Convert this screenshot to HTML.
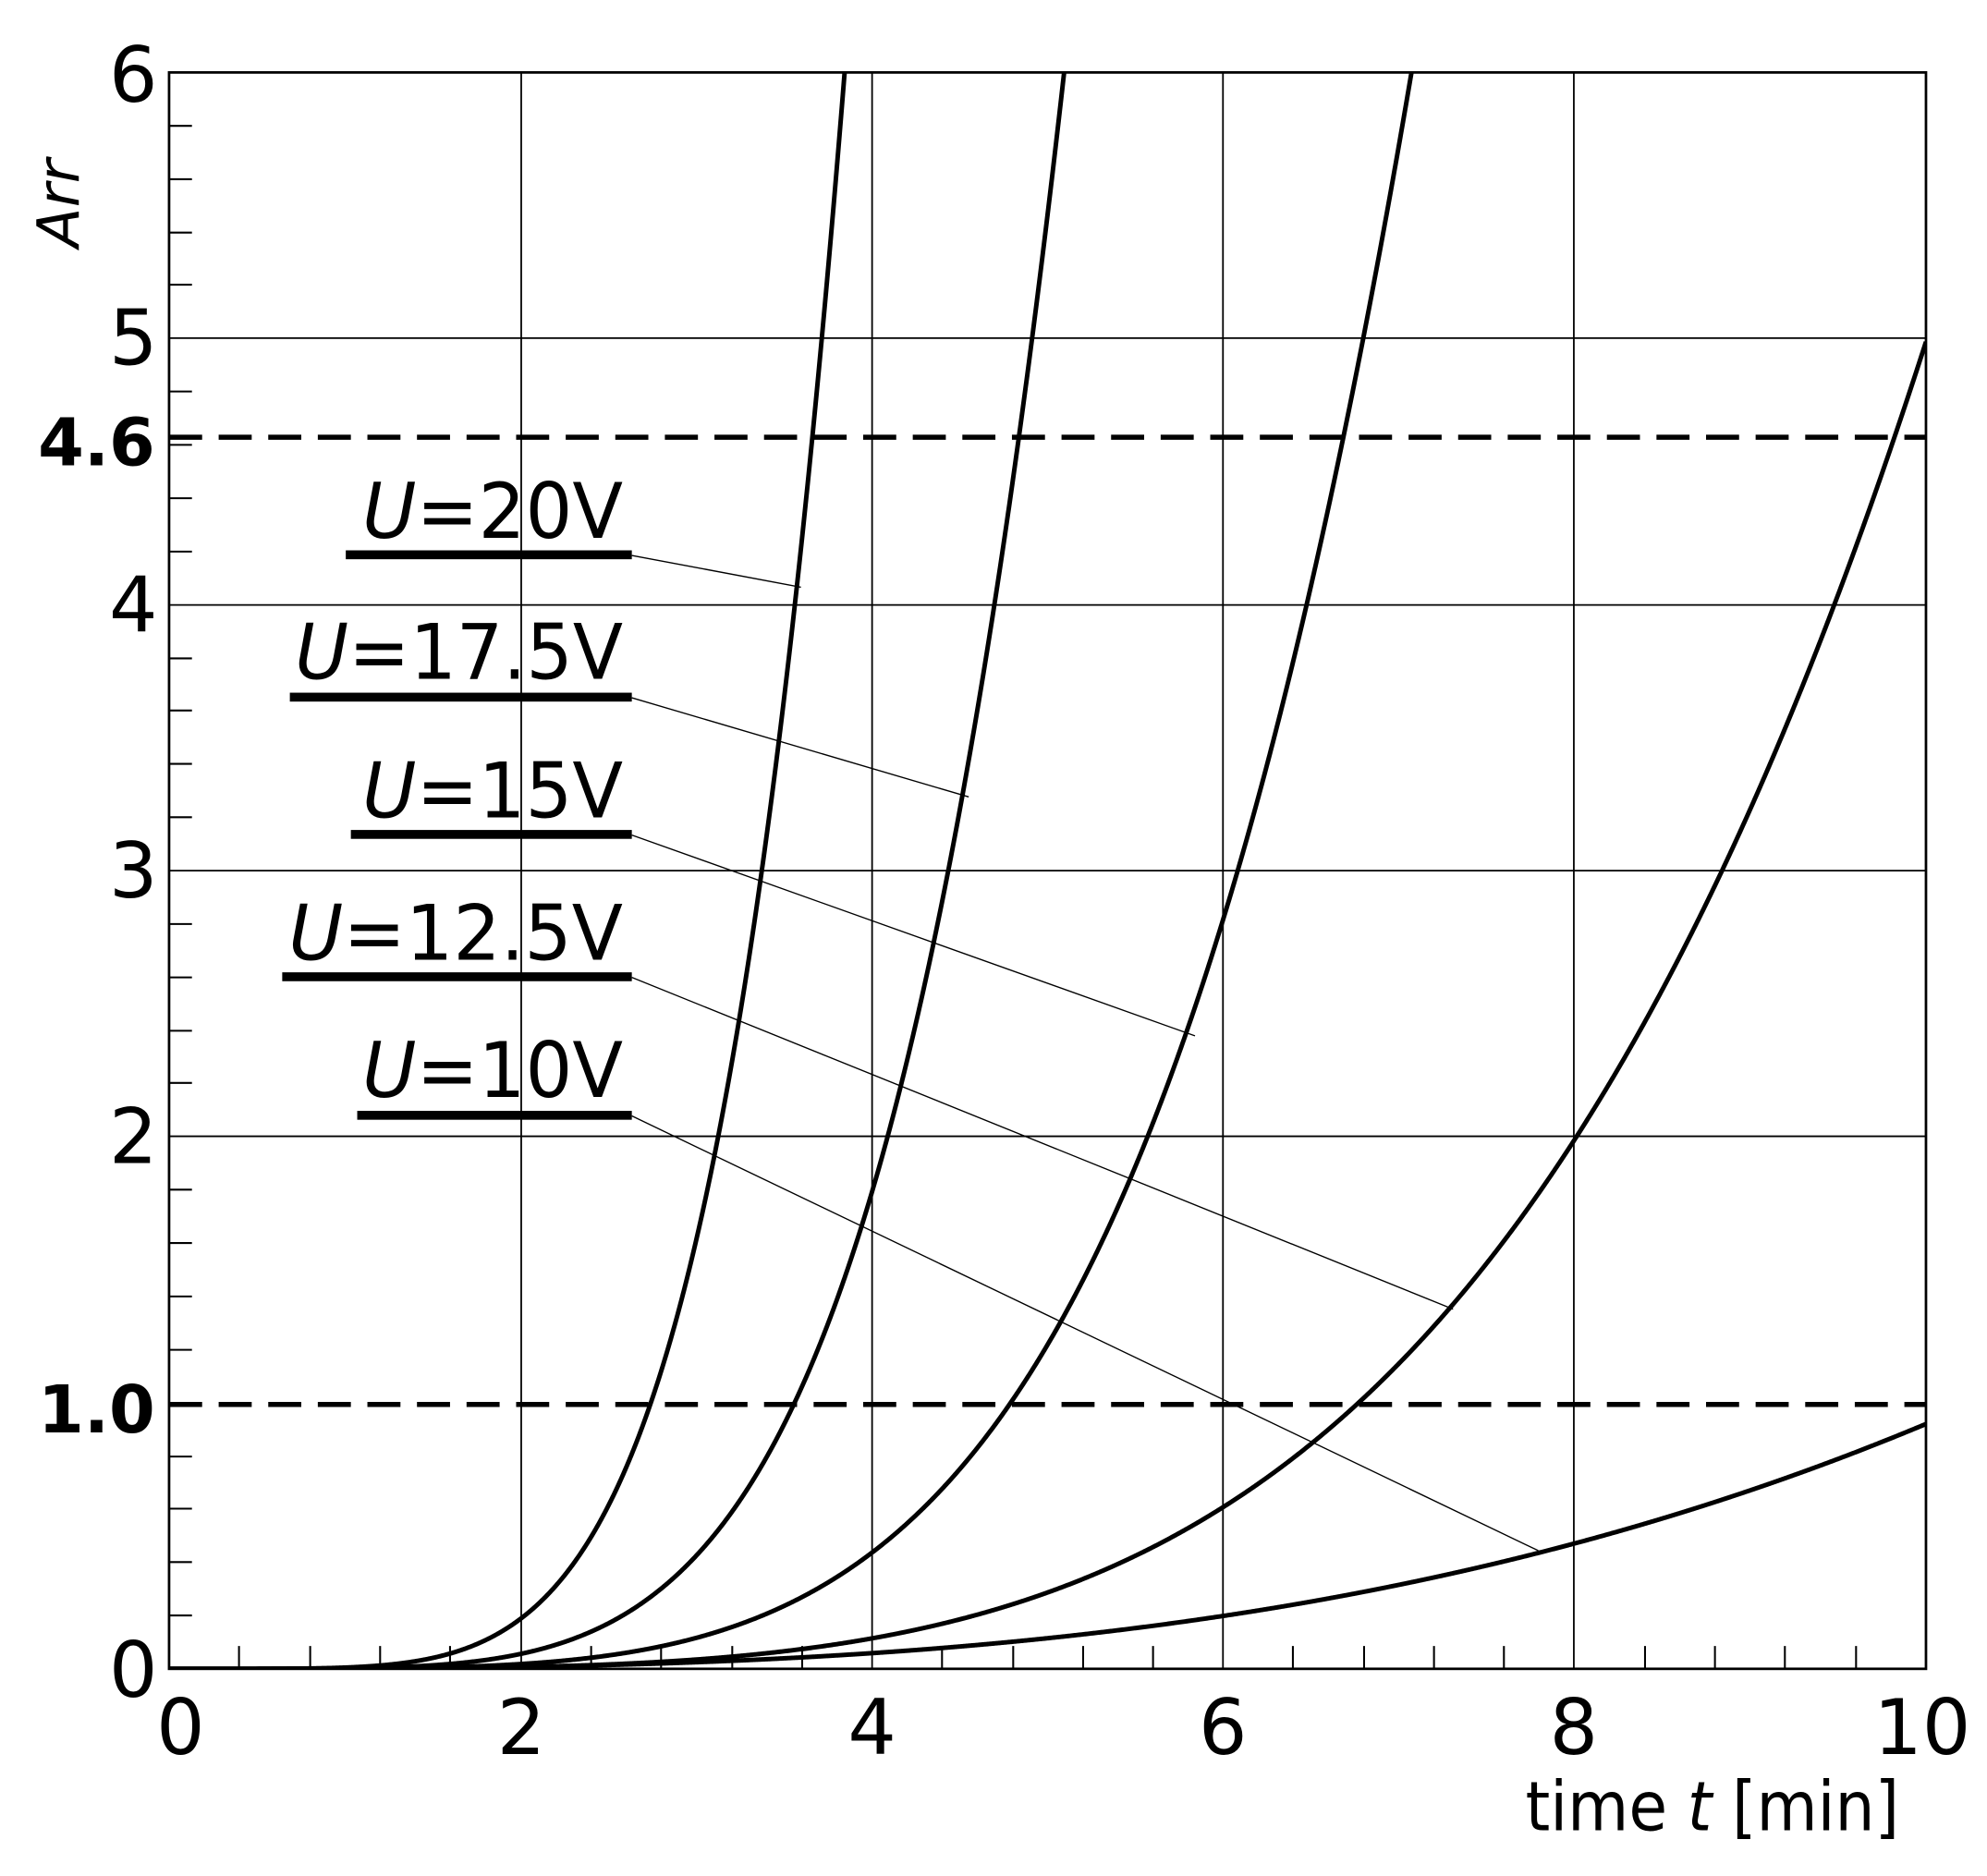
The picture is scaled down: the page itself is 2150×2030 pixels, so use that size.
<!DOCTYPE html>
<html><head><meta charset="utf-8"><style>html,body{margin:0;padding:0;background:#fff}svg{display:block}</style></head>
<body>
<svg id="s" width="2150" height="2030" viewBox="0 0 1563 1476" preserveAspectRatio="none" xmlns="http://www.w3.org/2000/svg">
<defs><clipPath id="c"><rect x="133" y="57" width="1382" height="1256"/></clipPath></defs>
<rect width="1563" height="1476" fill="#fff"/>
<g stroke="#000" stroke-width="1.3" fill="none">
<line x1="410" y1="57" x2="410" y2="1313"/><line x1="686" y1="57" x2="686" y2="1313"/>
<line x1="962" y1="57" x2="962" y2="1313"/><line x1="1238" y1="57" x2="1238" y2="1313"/>
<line x1="133" y1="266" x2="1515" y2="266"/><line x1="133" y1="476" x2="1515" y2="476"/>
<line x1="133" y1="685" x2="1515" y2="685"/><line x1="133" y1="894" x2="1515" y2="894"/>
</g>
<rect x="133" y="57" width="1382" height="1256" fill="none" stroke="#000" stroke-width="2"/>
<g stroke="#000" stroke-width="1.5">
<path d="M133 99h18M133 141h18M133 183h18M133 224h18M133 308h18M133 350h18M133 392h18M133 434h18M133 518h18M133 559h18M133 601h18M133 643h18M133 727h18M133 769h18M133 811h18M133 852h18M133 936h18M133 978h18M133 1020h18M133 1062h18M133 1146h18M133 1187h18M133 1229h18M133 1271h18"/>
<path d="M188 1313v-18M244 1313v-18M299 1313v-18M354 1313v-18M465 1313v-18M520 1313v-18M576 1313v-18M631 1313v-18M741 1313v-18M797 1313v-18M852 1313v-18M907 1313v-18M1017 1313v-18M1073 1313v-18M1128 1313v-18M1183 1313v-18M1294 1313v-18M1349 1313v-18M1404 1313v-18M1460 1313v-18"/>
</g>
<g stroke="#000" stroke-width="4" stroke-dasharray="26 13">
<line x1="133" y1="344" x2="1515" y2="344"/>
<line x1="133" y1="1105" x2="1515" y2="1105"/>
</g>
<g id="curves" stroke="#000" stroke-width="3.6" fill="none" stroke-linejoin="round" clip-path="url(#c)">
<polyline points="133,1313 280,1310 350,1298 400,1278 450,1240 490,1170 512,1105 540,1020 570,900 600,720 620,560 633,440 650,260 665,57"/>
<polyline points="133,1313 300,1308 400,1290 470,1255 520,1220 570,1170 625,1105 660,1030 690,920 720,780 745,620 770,460 790,343 808,230 825,130 838,57"/>
<polyline points="133,1313 400,1300 520,1280 600,1258 685,1215 740,1170 795,1105 840,1030 880,960 920,860 960,760 990,650 1030,480 1050,400 1068,343 1090,200 1110,57"/>
<polyline points="133,1313 500,1298 600,1285 700,1263 800,1235 900,1200 962,1180 1020,1150 1068,1105 1143,1030 1238,905 1300,790 1380,620 1440,480 1490,343 1515,270"/>
<polyline points="133,1313 400,1305 600,1300 800,1290 962,1272 1100,1245 1210,1220 1300,1197 1400,1167 1480,1138 1515,1122"/>
</g>
<g stroke="#000" stroke-width="1">
<line x1="497" y1="437" x2="630" y2="462"/>
<line x1="497" y1="549" x2="762" y2="627"/>
<line x1="497" y1="657" x2="940" y2="815"/>
<line x1="497" y1="769" x2="1143" y2="1030"/>
<line x1="497" y1="878" x2="1210" y2="1220"/>
</g>
<g fill="#000">
<rect x="272" y="433" width="225" height="7"/>
<rect x="228" y="545" width="269" height="7"/>
<rect x="276" y="653" width="221" height="7"/>
<rect x="222" y="765" width="275" height="7"/>
<rect x="281" y="874" width="216" height="7"/>
</g>
<g font-family="'DejaVu Sans','Liberation Sans',sans-serif" font-size="60" fill="#000">
<text x="285" y="423" textLength="205" lengthAdjust="spacingAndGlyphs"><tspan font-style="italic">U</tspan>=20V</text>
<text x="232" y="534" textLength="258" lengthAdjust="spacingAndGlyphs"><tspan font-style="italic">U</tspan>=17.5V</text>
<text x="285" y="643" textLength="205" lengthAdjust="spacingAndGlyphs"><tspan font-style="italic">U</tspan>=15V</text>
<text x="227" y="755" textLength="263" lengthAdjust="spacingAndGlyphs"><tspan font-style="italic">U</tspan>=12.5V</text>
<text x="285" y="863" textLength="205" lengthAdjust="spacingAndGlyphs"><tspan font-style="italic">U</tspan>=10V</text>
</g>
<g font-family="'DejaVu Sans','Liberation Sans',sans-serif" font-size="60" fill="#000">
<g text-anchor="end">
<text x="124" y="80">6</text>
<text x="124" y="287">5</text>
<text x="124" y="497">4</text>
<text x="124" y="706">3</text>
<text x="124" y="915">2</text>
<text x="124" y="1335">0</text>
<text x="122" y="366" font-weight="bold" font-size="52">4.6</text>
<text x="122" y="1127" font-weight="bold" font-size="52">1.0</text>
</g>
<g text-anchor="middle">
<text x="142" y="1380">0</text>
<text x="410" y="1380">2</text>
<text x="686" y="1380">4</text>
<text x="962" y="1380">6</text>
<text x="1238" y="1380">8</text>
<text x="1512" y="1380">10</text>
</g>
<text x="1200" y="1440" font-size="54" textLength="294" lengthAdjust="spacingAndGlyphs">time <tspan font-style="italic">t</tspan> [min]</text>
<text transform="translate(62,160) rotate(-90)" text-anchor="middle" font-size="46" font-style="italic">Arr</text>
</g>
</svg>
<script>
(function(){
  var g=document.getElementById('curves');
  var specs=[[2.742,5.3],[3.56,5.0],[4.79,4.6],[6.77,4.12],[10.28,3.0]];
  var html='';
  specs.forEach(function(s){
    var pts=[];
    for(var i=0;i<=2000;i++){
      var t=i/200; var a=Math.pow(t/s[0],s[1]);
      var x=133+t*138.2, y=1313-a*209.3;
      pts.push(x.toFixed(2)+','+y.toFixed(2));
      if(y<40)break;
    }
    html+='<polyline points="'+pts.join(' ')+'"/>';
  });
  g.innerHTML=html;
})();
</script>
</body></html>
